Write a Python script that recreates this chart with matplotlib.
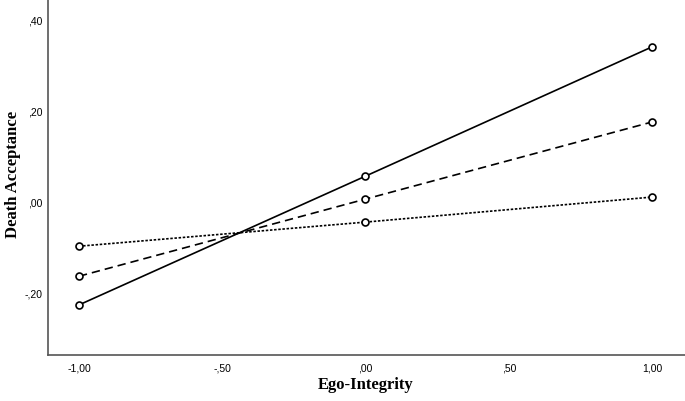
import matplotlib
matplotlib.use("Agg")
import matplotlib.pyplot as plt

x_vals = [-1.0, 0.0, 1.0]
high = [-0.226, 0.057, 0.341]
mid = [-0.163, 0.0066, 0.176]
low = [-0.097, -0.044, 0.011]
xticks = [-1.0, -0.5, 0.0, 0.5, 1.0]
xtick_labels = ["-1,00", "-,50", ",00", ",50", "1,00"]
yticks = [-0.2, 0.0, 0.2, 0.4]
ytick_labels = ["-,20", ",00", ",20", ",40"]

fig = plt.figure(figsize=(6.85, 4.01), dpi=100)
ax = fig.add_axes([48/685, 1-355/401, 1-48/685, 355/401])

style = dict(color="black", marker="o", markersize=5, markerfacecolor="white",
             markeredgecolor="black", markeredgewidth=1.2, linewidth=1.2)
ax.plot(x_vals, high, linestyle="-", **style)
ax.plot(x_vals, mid, linestyle=(0, (5, 3)), **style)
ax.plot(x_vals, low, linestyle=(0, (1.5, 1)), **style)

ax.set_xlim(-1.108, 1.115)
ax.set_ylim(-0.336, 0.444)
ax.set_xticks(xticks)
ax.set_xticklabels(xtick_labels)
ax.set_yticks(yticks)
ax.set_yticklabels(ytick_labels)
ax.tick_params(axis="x", length=0, labelsize=7.5, pad=6)
ax.tick_params(axis="y", length=0, labelsize=7.5, pad=4)
for lbl in ax.get_xticklabels() + ax.get_yticklabels():
    lbl.set_family("Liberation Sans")
ax.spines["top"].set_visible(False)
ax.spines["right"].set_visible(False)
for s in ["left", "bottom"]:
    ax.spines[s].set_color("#555555")
    ax.spines[s].set_linewidth(1.2)

fig.text(366/685, 1-385/401, "Ego-Integrity", family="Liberation Serif",
         fontweight="bold", fontsize=12, ha="center", va="center")
fig.text(13/685, 1-174/401, "Death Acceptance", family="Liberation Serif",
         fontweight="bold", fontsize=12, ha="center", va="center", rotation=90)

fig.savefig("out.png", dpi=100)
